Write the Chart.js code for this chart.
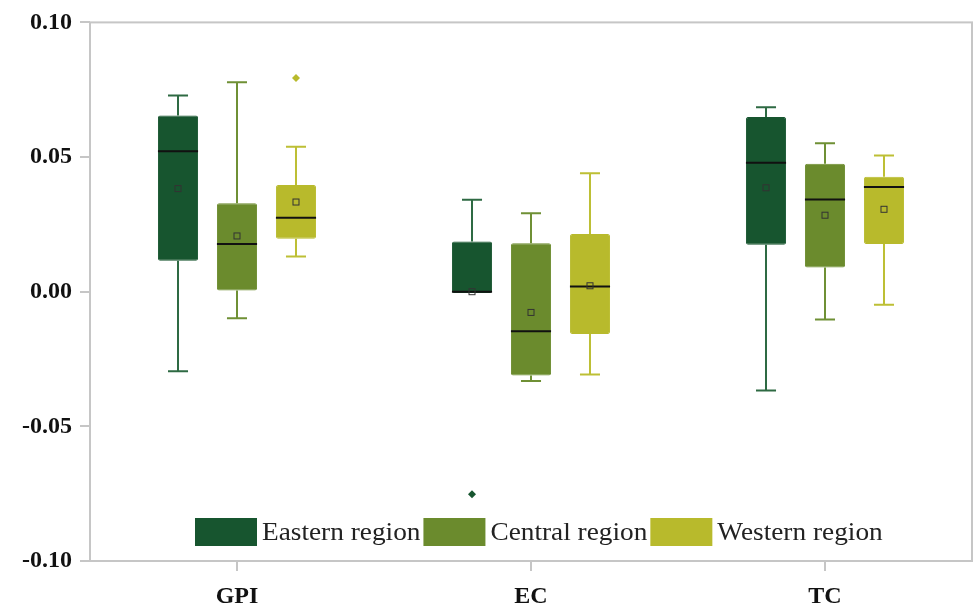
<!DOCTYPE html>
<html lang="en">
<head>
    <meta charset="UTF-8">
    <title>Box plot - regions</title>
    <script src="https://cdn.jsdelivr.net/npm/chart.js"></script>
    <style>
        html, body { margin: 0; padding: 0; background: #fff; }
        .chart-wrap { width: 973px; height: 605px; position: relative; }
    </style>
</head>
<body>
    <div class="chart-wrap">
        <canvas id="boxChart"></canvas>
    </div>
    <script>
    // categories and y ticks
    const categories = ['GPI', 'EC', 'TC'];
    const yTicks = [-0.10, -0.05, 0.00, 0.05, 0.10];
    const regionNames = ['Eastern region', 'Central region', 'Western region'];

    // Eastern region
    const easternMin    = [-0.0295, -0.0005, -0.0367];
    const easternQ1     = [ 0.0115, -0.0005,  0.0174];
    const easternMedian = [ 0.0522,  0.0000,  0.0479];
    const easternQ3     = [ 0.0654,  0.0186,  0.0649];
    const easternMax    = [ 0.0729,  0.0341,  0.0685];
    const easternMean   = [ 0.0383,  0.0000,  0.0386];
    const easternOut    = [[], [-0.0752], []];

    // Central region
    const centralMin    = [-0.0099, -0.0332, -0.0103];
    const centralQ1     = [ 0.0004, -0.0311,  0.0090];
    const centralMedian = [ 0.0177, -0.0147,  0.0342];
    const centralQ3     = [ 0.0328,  0.0180,  0.0475];
    const centralMax    = [ 0.0778,  0.0291,  0.0551];
    const centralMean   = [ 0.0207, -0.0077,  0.0284];
    const centralOut    = [[], [], []];

    // Western region
    const westernMin    = [ 0.0131, -0.0307, -0.0048];
    const westernQ1     = [ 0.0197, -0.0157,  0.0177];
    const westernMedian = [ 0.0275,  0.0019,  0.0389];
    const westernQ3     = [ 0.0396,  0.0214,  0.0427];
    const westernMax    = [ 0.0538,  0.0440,  0.0506];
    const westernMean   = [ 0.0333,  0.0022,  0.0306];
    const westernOut    = [[0.0794], [], []];

    const boxColors = ['#17552f', '#6b8b2d', '#b8ba2c'];
    const whiskerColors = ['#2e6a43', '#6f9035', '#bdbf35'];
    const frameColor = '#c6c6c6';
    const serif = "'Liberation Serif', 'Times New Roman', serif";

    const stats = [
        { min: easternMin, q1: easternQ1, med: easternMedian, q3: easternQ3, max: easternMax, mean: easternMean, out: easternOut },
        { min: centralMin, q1: centralQ1, med: centralMedian, q3: centralQ3, max: centralMax, mean: centralMean, out: centralOut },
        { min: westernMin, q1: westernQ1, med: westernMedian, q3: westernQ3, max: westernMax, mean: westernMean, out: westernOut }
    ];

    // frame around plot area
    const framePlugin = {
        id: 'frame',
        beforeDatasetsDraw(chart) {
            const a = chart.chartArea, ctx = chart.ctx;
            ctx.save();
            ctx.strokeStyle = frameColor;
            ctx.lineWidth = 2;
            ctx.strokeRect(a.left, a.top, a.right - a.left, a.bottom - a.top);
            ctx.restore();
        }
    };

    // whiskers, median, mean and outliers on top of the floating bars
    const boxPlugin = {
        id: 'boxExtras',
        afterDatasetsDraw(chart) {
            const ctx = chart.ctx;
            const y = chart.scales.y;
            ctx.save();
            stats.forEach(function(s, di) {
                const meta = chart.getDatasetMeta(di);
                meta.data.forEach(function(bar, i) {
                    const x = bar.x;
                    const w = bar.width;
                    const cap = w / 2;
                    const yq1 = y.getPixelForValue(s.q1[i]);
                    const yq3 = y.getPixelForValue(s.q3[i]);
                    const yMin = y.getPixelForValue(s.min[i]);
                    const yMax = y.getPixelForValue(s.max[i]);
                    ctx.strokeStyle = whiskerColors[di];
                    ctx.lineWidth = 2;
                    ctx.beginPath();
                    if (yMax < yq3 - 1) {
                        ctx.moveTo(x, yq3); ctx.lineTo(x, yMax);
                        ctx.moveTo(x - cap / 2, yMax); ctx.lineTo(x + cap / 2, yMax);
                    }
                    if (yMin > yq1 + 1) {
                        ctx.moveTo(x, yq1); ctx.lineTo(x, yMin);
                        ctx.moveTo(x - cap / 2, yMin); ctx.lineTo(x + cap / 2, yMin);
                    }
                    ctx.stroke();

                    // median
                    const ym = y.getPixelForValue(s.med[i]);
                    ctx.strokeStyle = '#111';
                    ctx.lineWidth = 2;
                    ctx.beginPath();
                    ctx.moveTo(x - w / 2, ym); ctx.lineTo(x + w / 2, ym);
                    ctx.stroke();

                    // mean marker
                    const yMean = y.getPixelForValue(s.mean[i]);
                    ctx.strokeStyle = '#333';
                    ctx.lineWidth = 1;
                    ctx.strokeRect(x - 3, yMean - 3, 6, 6);

                    // outliers
                    ctx.fillStyle = boxColors[di];
                    s.out[i].forEach(function(v) {
                        const yo = y.getPixelForValue(v);
                        ctx.beginPath();
                        ctx.moveTo(x, yo - 4); ctx.lineTo(x + 4, yo);
                        ctx.lineTo(x, yo + 4); ctx.lineTo(x - 4, yo);
                        ctx.closePath();
                        ctx.fill();
                    });
                });
            });
            ctx.restore();
        }
    };

    // legend drawn inside the plot, near the bottom
    const legendPlugin = {
        id: 'innerLegend',
        afterDraw(chart) {
            const ctx = chart.ctx;
            const a = chart.chartArea;
            const stretch = 1.05;
            ctx.save();
            ctx.font = '26px ' + serif;
            ctx.textBaseline = 'middle';
            let x = a.left + 105;
            const top = a.bottom - 43;
            chart.data.datasets.forEach(function(ds, i) {
                ctx.fillStyle = boxColors[i];
                ctx.fillRect(x, top, 62, 28);
                ctx.fillStyle = '#222';
                ctx.save();
                ctx.translate(x + 67, top + 15);
                ctx.scale(stretch, 1);
                ctx.fillText(ds.label, 0, 0);
                ctx.restore();
                x += 67 + ctx.measureText(ds.label).width * stretch + 3;
            });
            ctx.restore();
        }
    };

    const datasets = stats.map(function(s, di) {
        return {
            label: regionNames[di],
            data: categories.map((c, i) => [s.q1[i], s.q3[i]]),
            backgroundColor: boxColors[di],
            borderColor: boxColors[di],
            borderWidth: 1,
            borderRadius: 2,
            borderSkipped: false,
            barPercentage: 0.68,
            categoryPercentage: 0.602
        };
    });

    new Chart(document.getElementById('boxChart'), {
        type: 'bar',
        data: { labels: categories, datasets: datasets },
        options: {
            responsive: true,
            maintainAspectRatio: false,
            animation: false,
            layout: { padding: { top: 21, right: 1, left: 0, bottom: 0 } },
            plugins: {
                legend: { display: false },
                tooltip: { enabled: false }
            },
            scales: {
                x: {
                    grid: { drawOnChartArea: false, offset: false, tickLength: 10, color: frameColor, lineWidth: 2 },
                    border: { display: false },
                    ticks: { color: '#111', padding: 11, font: { family: serif, size: 24, weight: 'bold' } },
                    afterFit(scale) { scale.height = 44; }
                },
                y: {
                    min: yTicks[0],
                    max: yTicks[yTicks.length - 1],
                    afterBuildTicks(scale) { scale.ticks = yTicks.map(v => ({ value: v })); },
                    grid: { drawOnChartArea: false, tickLength: 10, color: frameColor, lineWidth: 2 },
                    border: { display: false },
                    ticks: {
                        color: '#111',
                        padding: 8,
                        font: { family: serif, size: 24, weight: 'bold' },
                        callback: v => v.toFixed(2)
                    },
                    afterFit(scale) { scale.width = 90; }
                }
            }
        },
        plugins: [framePlugin, boxPlugin, legendPlugin]
    });
    </script>
</body>
</html>
